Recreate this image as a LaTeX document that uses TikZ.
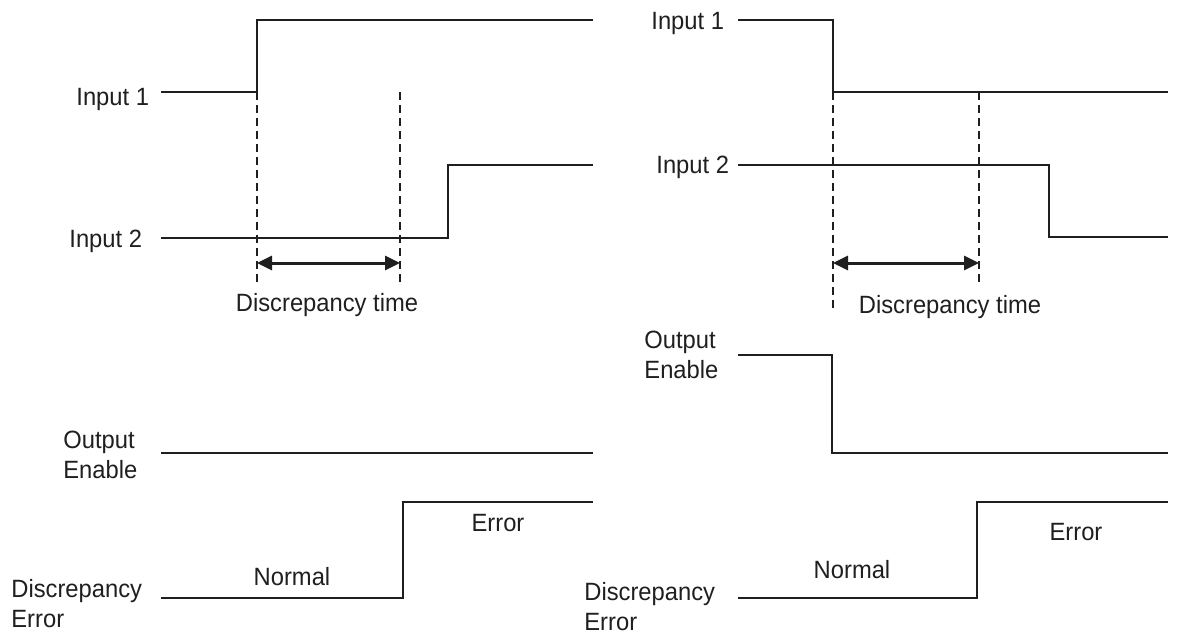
\documentclass[tikz,border=0pt]{standalone}
\usepackage{fontspec}
\setmainfont{Liberation Sans}[FakeStretch=0.95]
\usetikzlibrary{arrows.meta}
\begin{document}
\begin{tikzpicture}[x=0.5pt,y=-0.5pt,
  wave/.style={line width=1pt, line join=miter, draw=black!88},
  guide/.style={line width=0.7pt, dash pattern=on 4pt off 2.5pt, draw=black!88},
  span/.style={line width=1.5pt, draw=black!88, fill=black!88,
    {Triangle[length=7.5pt,width=7pt]}-{Triangle[length=7.5pt,width=7pt]}},
  lbl/.style={font=\fontsize{12.5}{15}\selectfont, inner sep=0pt, text=black!88, align=left}]
\useasboundingbox (0,0) rectangle (1177,634);

% ---------- left panel ----------
\node[lbl, anchor=base west] (l-in1) at (76,105) {Input 1};
\node[lbl, anchor=base west] (l-in2) at (69,247) {Input 2};
\node[lbl, anchor=base west] (l-oe) at (63,478) {Output\\Enable};
\node[lbl, anchor=base west] (l-de) at (11,627) {Discrepancy\\Error};
\node[lbl, anchor=base] (l-dt) at (327,311) {Discrepancy time};
\node[lbl, anchor=base] (l-normal) at (292,585) {Normal};
\node[lbl, anchor=base] (l-error) at (498,531) {Error};

\coordinate (l1a) at (161,92);  \coordinate (l1b) at (257,92);
\coordinate (l1c) at (257,20);  \coordinate (l1d) at (593,20);
\draw[wave] (l1a) -- (l1b) -- (l1c) -- (l1d);

\coordinate (l2a) at (161,238); \coordinate (l2b) at (448,238);
\coordinate (l2c) at (448,165); \coordinate (l2d) at (593,165);
\draw[wave] (l2a) -- (l2b) -- (l2c) -- (l2d);

\coordinate (lg1t) at (257,92);  \coordinate (lg1b) at (257,283);
\coordinate (lg2t) at (400,92);  \coordinate (lg2b) at (400,283);
\draw[guide] (lg1t) -- (lg1b);
\draw[guide] (lg2t) -- (lg2b);
\coordinate (lsa) at (257,263); \coordinate (lsb) at (400,263);
\draw[span] (lsa) -- (lsb);

\coordinate (loa) at (161,453); \coordinate (lob) at (593,453);
\draw[wave] (loa) -- (lob);

\coordinate (lea) at (161,598); \coordinate (leb) at (403,598);
\coordinate (lec) at (403,502); \coordinate (led) at (593,502);
\draw[wave] (lea) -- (leb) -- (lec) -- (led);

% ---------- right panel ----------
\node[lbl, anchor=base west] (r-in1) at (651,29) {Input 1};
\node[lbl, anchor=base west] (r-in2) at (656,173) {Input 2};
\node[lbl, anchor=base west] (r-oe) at (644,378) {Output\\Enable};
\node[lbl, anchor=base west] (r-de) at (584,630) {Discrepancy\\Error};
\node[lbl, anchor=base] (r-dt) at (950,313) {Discrepancy time};
\node[lbl, anchor=base] (r-normal) at (852,578) {Normal};
\node[lbl, anchor=base] (r-error) at (1076,540) {Error};

\coordinate (r1a) at (738,20);  \coordinate (r1b) at (833,20);
\coordinate (r1c) at (833,92);  \coordinate (r1d) at (1168,92);
\draw[wave] (r1a) -- (r1b) -- (r1c) -- (r1d);

\coordinate (r2a) at (738,165); \coordinate (r2b) at (1049,165);
\coordinate (r2c) at (1049,237); \coordinate (r2d) at (1168,237);
\draw[wave] (r2a) -- (r2b) -- (r2c) -- (r2d);

\coordinate (rg1t) at (833,92);  \coordinate (rg1b) at (833,310);
\coordinate (rg2t) at (979,92);  \coordinate (rg2b) at (979,283);
\draw[guide] (rg1t) -- (rg1b);
\draw[guide] (rg2t) -- (rg2b);
\coordinate (rsa) at (833,263); \coordinate (rsb) at (979,263);
\draw[span] (rsa) -- (rsb);

\coordinate (roa) at (738,355); \coordinate (rob) at (832,355);
\coordinate (roc) at (832,453); \coordinate (rod) at (1168,453);
\draw[wave] (roa) -- (rob) -- (roc) -- (rod);

\coordinate (rea) at (738,598); \coordinate (reb) at (977,598);
\coordinate (rec) at (977,502); \coordinate (red) at (1168,502);
\draw[wave] (rea) -- (reb) -- (rec) -- (red);
\end{tikzpicture}
\end{document}
